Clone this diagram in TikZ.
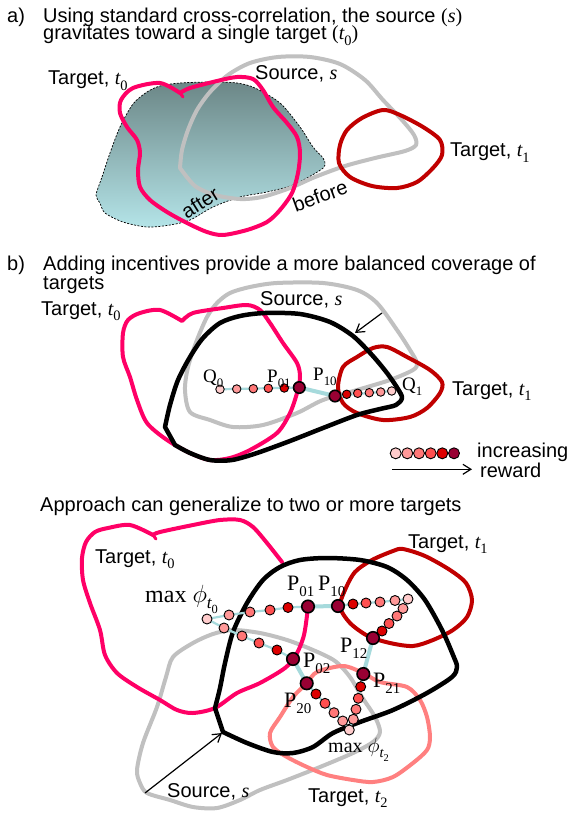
\documentclass[tikz,border=0pt]{standalone}
\usepackage{fontspec}
\setmainfont{Liberation Sans}
\newfontfamily\tms{Liberation Serif}
\usetikzlibrary{arrows.meta}
\pgfdeclarelayer{curves}\pgfdeclarelayer{links}
\pgfsetlayers{curves,links,main}
\definecolor{pinkc}{HTML}{FF0066}
\definecolor{redc}{HTML}{C00000}
\definecolor{grayc}{HTML}{C0C0C0}
\definecolor{salmc}{HTML}{FF8080}
\definecolor{cyanc}{HTML}{A6DADC}
\definecolor{shtop}{HTML}{6C8787}
\definecolor{shbot}{HTML}{B4E4E8}
\definecolor{dotA}{HTML}{FFCCCC}
\definecolor{dotB}{HTML}{FF9999}
\definecolor{dotC}{HTML}{FF7777}
\definecolor{dotE}{HTML}{FF5050}
\definecolor{dotF}{HTML}{DD0000}
\definecolor{dotG}{HTML}{990033}
\newcommand\fsz[1]{\fontsize{#1}{#1}\selectfont}
\newcommand\itv[1]{{\tms\itshape #1}}
\newcommand\lsub[1]{\raisebox{-0.28em}{\scalebox{0.72}{#1}}}
\newcommand\psub[1]{\raisebox{-0.3em}{\scalebox{0.68}{#1}}}
\tikzset{
  lbl/.style={inner sep=0pt, anchor=base west, font=\fsz{20}},
  plbl/.style={inner sep=0pt, anchor=base west, font=\tms\fsz{22}},
  qlbl/.style={inner sep=0pt, anchor=base west, font=\tms\fsz{19}},
  curve/.style={line width=4pt, line join=round, line cap=round},
  dotsm/.style={circle, draw=black, line width=0.9pt, inner sep=0pt, minimum size=8.5pt},
  dotmd/.style={circle, draw=black, line width=0.9pt, inner sep=0pt, minimum size=10pt},
  dotbig/.style={circle, draw=black, line width=1.6pt, inner sep=0pt, minimum size=12.5pt, fill=dotG},
  linkthin/.style={draw=cyanc, line width=2.2pt},
  linkthick/.style={draw=cyanc, line width=4pt},
  thinarrow/.style={line width=1.2pt, -{Straight Barb[length=8pt,width=10pt]}}
}
\begin{document}
\begin{tikzpicture}[x=1pt,y=-1pt]
\useasboundingbox (0,0) rectangle (573,813);

% ---------------- titles ----------------
\node[lbl] (ta0) at (7,23) {a)};
\node[lbl] (ta1) at (43,23) {Using standard cross-correlation, the source {\tms(}\itv{s}{\tms)}};
\node[lbl] (ta2) at (43,39.5) {gravitates toward a single target {\tms(}\itv{t}\lsub{\tms 0}{\tms)}};
\node[lbl] (tb0) at (7,270.5) {b)};
\node[lbl] (tb1) at (43,270.5) {Adding incentives provide a more balanced coverage of};
\node[lbl] (tb2) at (43,289) {targets};
\node[lbl] (tc1) at (40,511) {Approach can generalize to two or more targets};

\begin{pgfonlayer}{curves}
\fill[white] (0,0) rectangle (573,813);
% ---------------- panel a ----------------
\shadedraw[top color=shtop, bottom color=shbot, draw=black, line width=0.7pt,
  dash pattern=on 2pt off 1.5pt]
  plot[smooth cycle] coordinates {(96,195) (102,177) (110,153) (120,127) (133,104)
  (147,92) (160,86) (180,83) (213,82) (237,83) (255,88) (280,103) (300,127)
  (313,147) (323,158) (325,165) (319,171) (293,185) (267,192) (240,197) (213,207)
  (190,220) (170,225) (147,227) (123,222) (105,213) (100,203)};
\draw[curve, grayc] plot[smooth] coordinates {(180,168) (182,150) (188,130) (197,110)
  (210,92) (228,75) (250,63) (278,57) (310,57) (340,64) (365,80) (383,100) (402,120)
  (414,135) (416,145) (405,151) (375,158) (345,166) (315,177) (290,188) (262,197)
  (240,199) (215,195) (195,186) (180,168)} -- cycle;
\draw[curve, pinkc] plot[smooth] coordinates {(180,93) (190,88) (217,81) (237,77)
  (253,79) (263,90) (273,107) (287,123) (297,137) (300,153) (298,173) (292,193)
  (280,210) (267,222) (247,230) (223,235) (207,232) (187,223) (167,212) (150,200)
  (140,187) (138,170) (140,153) (137,140) (127,127) (120,113) (121,100) (133,88)
  (160,83) (180,93)} -- cycle;
\draw[curve, pinkc, line width=3pt] (180,93) -- (183,97);
\draw[curve, redc] plot[smooth cycle] coordinates {(340,145) (347,130) (362,118)
  (383,110) (400,115) (423,127) (440,140) (442,155) (433,168) (417,182) (397,188)
  (372,186) (350,177) (339,163)};

% ---------------- panel b ----------------
\draw[curve, grayc] plot[smooth cycle] coordinates {(207,317) (217,303) (230,293)
  (250,287) (277,283) (323,283) (357,290) (377,303) (397,330) (410,350) (417,363)
  (413,370) (390,380) (357,390) (323,400) (297,413) (263,425) (233,427) (210,420)
  (190,412) (185,390) (188,367) (197,340)};
\draw[curve, pinkc] plot[smooth] coordinates {(182,321) (193,313) (223,308) (247,305)
  (260,310) (270,323) (283,343) (297,363) (300,377) (297,393) (290,413) (277,433)
  (250,450) (230,458) (210,460) (190,453) (167,440) (147,423) (137,400) (130,377)
  (123,357) (123,333) (128,320) (140,313) (160,310) (182,321)} -- cycle;
\draw[curve, pinkc, line width=3pt] (182,321) -- (185,318);
\draw[curve, redc] plot[smooth cycle] coordinates {(343,367) (357,357) (373,348)
  (387,347) (407,357) (430,370) (442,382) (440,393) (427,408) (410,417) (383,420)
  (357,413) (343,403) (338,387)};
\draw[curve, black, line width=4.5pt] plot[smooth] coordinates {(165,427) (170,405)
  (178,380) (190,357) (203,338) (220,323) (240,316) (265,313) (300,314) (330,322)
  (353,336) (372,355) (387,373) (398,389) (402,398) (396,405) (380,409) (357,415)
  (323,428) (290,441) (257,453) (232,460) (210,460) (190,453) (175,445)} -- cycle;

% ---------------- panel c ----------------
\draw[curve, grayc] plot[smooth cycle] coordinates {(173,657) (193,643) (213,634)
  (233,630) (260,633) (287,640) (313,650) (335,661) (350,677) (362,697) (375,717)
  (380,732) (373,742) (353,753) (320,767) (287,780) (260,790) (240,800) (217,808)
  (193,807) (170,800) (147,793) (140,783) (137,770) (143,743) (157,707) (166,677)};
\draw[curve, salmc] plot[smooth cycle] coordinates {(307,683) (317,672) (343,666)
  (363,673) (380,682) (407,687) (420,700) (427,717) (430,737) (427,750) (413,763)
  (393,777) (373,782) (353,780) (327,775) (307,767) (287,757) (273,747) (270,733)
  (280,717) (293,697)};
\draw[curve, pinkc] plot[smooth] coordinates {(308,607) (304,635) (296,655) (285,668)
  (260,683) (237,693) (215,708) (193,713) (177,710) (160,700) (137,687) (117,673)
  (105,655) (100,630) (90,603) (83,580) (82,558) (86,542) (95,532) (108,528)
  (130,525) (153,535)};
\draw[curve, pinkc] plot[smooth] coordinates {(153,535) (160,532) (193,525) (220,520)
  (240,520) (253,527) (267,543) (282,562)};
\draw[curve, pinkc, line width=3pt] (153,535) -- (156,539);
\draw[curve, redc] plot[smooth cycle] coordinates {(340,607) (345,590) (355,572)
  (372,560) (393,551) (403,549) (425,556) (450,570) (466,583) (472,600) (467,617)
  (453,630) (433,640) (413,646) (390,643) (368,636) (350,623)};
\draw[curve, black, line width=4.5pt] plot[smooth] coordinates {(215,708) (220,688)
  (225,663) (233,632) (247,603) (263,580) (280,567) (300,560) (327,558) (360,560)
  (387,567) (407,580) (425,600) (442,630) (453,655) (457,667) (452,677) (427,693)
  (393,710) (360,722) (333,733) (313,747) (293,753) (273,752) (247,743) (223,732)}
  -- cycle;
\end{pgfonlayer}

% ---------------- arrows ----------------
\coordinate (arB1) at (382,313);
\coordinate (arB2) at (355,333);
\draw[thinarrow] (arB1) -- (arB2);
\coordinate (arC1) at (145,793);
\coordinate (arC2) at (222,733);
\draw[thinarrow] (arC1) -- (arC2);
\coordinate (arL1) at (392,469.3);
\coordinate (arL2) at (472,469.3);
\draw[thinarrow] (arL1) -- (arL2);

% ---------------- dots panel b ----------------
\foreach \n/\x/\y/\c in {bq0/220/389.3/dotA, bd1/236.7/389/dotB, bd2/253.3/388.7/dotC,
  bd3/268.3/388.3/dotE, bd4/284.3/388/dotF,
  be1/346.7/394.3/dotF, be2/357.7/393.3/dotE, be3/369.3/392.7/dotC, be4/380.7/392/dotB,
  bq1/391.7/391/dotA}
  {\node[dotsm, fill=\c] (\n) at (\x,\y) {};}
\node[dotbig, minimum size=11.5pt] (bp01) at (299.3,387.5) {};
\node[dotbig, minimum size=11.5pt] (bp10) at (335,396) {};
\begin{pgfonlayer}{links}
\draw[linkthin] (bq0.center) -- (bp01.center);
\draw[linkthick] (bp01.center) -- (bp10.center);
\draw[linkthin] (bp10.center) -- (bq1.center);
\end{pgfonlayer}

% legend
\foreach \n/\x/\c in {lg1/395.7/dotA, lg2/407.3/dotB, lg3/419/dotC, lg4/430.7/dotE,
  lg5/442.3/dotF, lg6/454/dotG}
  {\node[dotsm, minimum size=11pt, fill=\c] (\n) at (\x,453.3) {};}
\node[lbl] (leginc) at (477,457) {increasing};
\node[lbl] (legrew) at (480,477) {reward};

% ---------------- dots panel c ----------------
\foreach \n/\x/\y/\c in {cm0/207/619/dotA,
  cu1/229/615/dotB, cu2/250/612/dotC, cu3/270/610/dotE, cu4/288/607.5/dotF,
  cl1/224/628/dotB, cl2/242/636/dotC, cl3/259/643/dotE, cl4/277/650/dotF,
  cr1/353/604/dotF, cr2/366/603/dotE, cr3/380/602/dotC, cr4/395/600.5/dotB, cr5/408/599/dotA,
  cd1/382/631/dotF, cd2/389/623.5/dotE, cd3/397/616/dotC, cd4/403/608.5/dotB,
  cs1/360.7/686.7/dotF, cs2/358.3/698.3/dotE, cs3/356/709.3/dotC, cs4/353.3/719.3/dotB,
  ct1/316/694/dotF, ct2/325/703.3/dotE, ct3/334/712.7/dotC, ct4/342.7/721/dotB,
  cm2/349.3/730/dotA}
  {\node[dotmd, fill=\c] (\n) at (\x,\y) {};}
\node[dotbig] (cp01) at (308,606.5) {};
\node[dotbig] (cp10) at (338,606) {};
\node[dotbig] (cp12) at (373,638) {};
\node[dotbig] (cp02) at (293,659) {};
\node[dotbig] (cp21) at (363.3,674) {};
\node[dotbig] (cp20) at (306.7,683.3) {};
\begin{pgfonlayer}{links}
\draw[linkthin] (cp01.center) -- (cu4.center) -- (cu3.center) -- (cu2.center) -- (cu1.center) -- (cm0.center)
  -- (cl1.center) -- (cl2.center) -- (cl3.center) -- (cl4.center) -- (cp02.center);
\draw[linkthin] (cp10.center) -- (cr1.center) -- (cr2.center) -- (cr3.center) -- (cr4.center) -- (cr5.center)
  -- (cd4.center) -- (cd3.center) -- (cd2.center) -- (cd1.center) -- (cp12.center);
\draw[linkthin] (cp21.center) -- (cs1.center) -- (cs2.center) -- (cs3.center) -- (cs4.center) -- (cm2.center)
  -- (ct4.center) -- (ct3.center) -- (ct2.center) -- (ct1.center) -- (cp20.center);
\draw[linkthick] (cp01.center) -- (cp10.center);
\draw[linkthick] (cp12.center) -- (cp21.center);
\draw[linkthick] (cp02.center) -- (cp20.center);
\end{pgfonlayer}

% ---------------- labels panel a ----------------
\node[lbl] (at0) at (48,85) {Target, \itv{t}\lsub{\tms 0}};
\node[lbl] (as) at (255,80) {Source, \itv{s}};
\node[lbl] (at1) at (450,157) {Target, \itv{t}\lsub{\tms 1}};
\node[rotate=32, inner sep=0pt, font=\fsz{20}] (aafter) at (200,203) {after};
\node[rotate=20, inner sep=0pt, font=\fsz{20}] (abefore) at (320,196) {before};

% ---------------- labels panel b ----------------
\node[lbl] (bt0) at (41,315) {Target, \itv{t}\lsub{\tms 0}};
\node[lbl] (bs) at (260,305) {Source, \itv{s}};
\node[lbl] (bt1) at (452,395) {Target, \itv{t}\lsub{\tms 1}};
\node[qlbl] (lq0) at (203,382) {Q\psub{0}};
\node[qlbl] (lp01) at (267,382) {P\psub{01}};
\node[qlbl] (lp10) at (313,380) {P\psub{10}};
\node[qlbl] (lq1) at (402,390) {Q\psub{1}};

% ---------------- labels panel c ----------------
\node[lbl] (ct0) at (95,563) {Target, \itv{t}\lsub{\tms 0}};
\node[lbl] (ct1l) at (408,548) {Target, \itv{t}\lsub{\tms 1}};
\node[lbl] (csl) at (167,797) {Source, \itv{s}};
\node[lbl] (ct2l) at (308,802) {Target, \itv{t}\lsub{\tms 2}};
\node[plbl, font=\tms\fsz{24}] (lmax0) at (145,602) {max $\phi$\lsub{\itv{t}\lsub{0}}};
\node[plbl, font=\tms\fsz{20}] (lmax2) at (328,752) {max $\phi$\lsub{\itv{t}\lsub{2}}};
\node[plbl] (lcp01) at (287,590) {P\psub{01}};
\node[plbl] (lcp10) at (318,590) {P\psub{10}};
\node[plbl] (lcp12) at (340,652) {P\psub{12}};
\node[plbl] (lcp02) at (303,667) {P\psub{02}};
\node[plbl] (lcp21) at (373,687) {P\psub{21}};
\node[plbl] (lcp20) at (284,707) {P\psub{20}};
\end{tikzpicture}
\end{document}
